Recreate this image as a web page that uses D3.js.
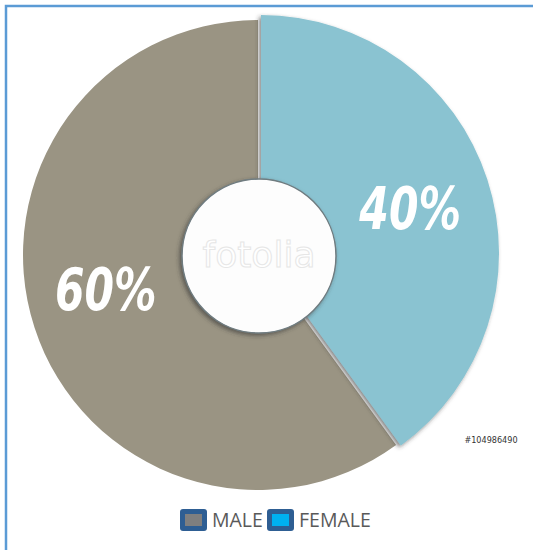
<!DOCTYPE html>
<html>
<head>
<meta charset="utf-8">
<script src="https://cdn.jsdelivr.net/npm/d3@7"></script>
<style>
  body { margin: 0; background: #fff; }
</style>
</head>
<body>
<div id="chart"></div>
<script>
// data
var categories = ['MALE', 'FEMALE']
var values = [60, 40]
var sliceColors = ['#9a9483', '#8ac3d1']
var legendColors = ['#7f7f7f', '#00b0f0']

var width = 533
var height = 550

var svg = d3.select('#chart')
  .append('svg')
    .attr('width', width)
    .attr('height', height)

var defs = svg.append('defs')
defs.append('filter')
    .attr('id', 'shadow')
    .attr('x', '-20%').attr('y', '-20%').attr('width', '140%').attr('height', '140%')
  .append('feDropShadow')
    .attr('dx', -2).attr('dy', 2)
    .attr('stdDeviation', 2)
    .attr('flood-color', '#333')
    .attr('flood-opacity', 0.6)

// frame
svg.append('rect')
  .attr('x', 6).attr('y', 6)
  .attr('width', 560).attr('height', 580)
  .attr('fill', 'none')
  .attr('stroke', '#5b9bd5')
  .attr('stroke-width', 2.5)

var cx = 258, cy = 255
var outerR = 235, innerR = 77

var pie = d3.pie()
  .sort(null)
  .startAngle(-values[0] / 100 * 2 * Math.PI)
  .endAngle(2 * Math.PI - values[0] / 100 * 2 * Math.PI)
  (values)

var arc = d3.arc().innerRadius(innerR - 5).outerRadius(outerR)
var labelArc = d3.arc().innerRadius(160).outerRadius(160)

var g = svg.append('g')
  .attr('transform', 'translate(' + cx + ',' + cy + ')')

// slices (female drawn slightly bigger and nudged, like the picture)
g.selectAll('path.slice')
  .data(pie)
  .enter()
  .append('path')
    .attr('class', 'slice')
    .attr('d', function(d, i) {
      if (i == 1) return d3.arc().innerRadius(innerR - 5).outerRadius(outerR + 3)(d)
      return arc(d)
    })
    .attr('transform', function(d, i) { return i == 1 ? 'translate(3,-2)' : null })
    .attr('fill', function(d, i) { return sliceColors[i] })
    .attr('filter', function(d, i) { return i == 1 ? 'url(#shadow)' : null })

// center hole
g.append('circle')
  .attr('cx', 1).attr('cy', 1)
  .attr('r', innerR)
  .attr('fill', '#fdfdfd')
  .attr('stroke', '#6f7c80')
  .attr('stroke-width', 1.5)
  .attr('filter', 'url(#shadow)')

g.append('text')
  .attr('x', 1).attr('y', 12)
  .attr('text-anchor', 'middle')
  .style('font-family', 'DejaVu Sans')
  .style('font-size', '36px')
  .style('fill', '#ffffff')
  .style('stroke', '#e6e6e6')
  .style('stroke-width', 1)
  .text('fotolia')

// percentage labels
g.selectAll('text.pct')
  .data(pie)
  .enter()
  .append('text')
    .attr('class', 'pct')
    .attr('transform', function(d) {
      var c = labelArc.centroid(d)
      return 'translate(' + c[0] + ',' + c[1] + ')'
    })
    .attr('dy', function(d, i) { return i == 0 ? '0.1em' : '0.4em' })
    .attr('text-anchor', 'middle')
    .style('font-family', 'DejaVu Sans Condensed, DejaVu Sans')
    .style('font-weight', 'bold')
    .style('font-style', 'italic')
    .style('font-size', '59px')
    .style('fill', '#ffffff')
    .text(function(d) { return d.value + '%' })
    .each(function() {
      var w = this.getComputedTextLength()
      d3.select(this)
        .attr('textLength', w * 0.8)
        .attr('lengthAdjust', 'spacingAndGlyphs')
    })

// stock number
svg.append('text')
  .attr('x', 491).attr('y', 443)
  .attr('text-anchor', 'middle')
  .style('font-family', 'DejaVu Sans Condensed, DejaVu Sans')
  .style('font-size', '9px')
  .style('fill', '#333')
  .text('#104986490')

// legend
var legend = svg.append('g')
  .attr('transform', 'translate(180, 509)')

var itemX = [0, 87]
var item = legend.selectAll('g.item')
  .data(categories)
  .enter()
  .append('g')
    .attr('class', 'item')
    .attr('transform', function(d, i) { return 'translate(' + itemX[i] + ',0)' })

item.append('rect')
  .attr('x', 0).attr('y', 0)
  .attr('width', 27).attr('height', 22)
  .attr('rx', 3)
  .attr('fill', '#2e5e93')

item.append('rect')
  .attr('x', 5).attr('y', 5)
  .attr('width', 17).attr('height', 12)
  .attr('fill', function(d, i) { return legendColors[i] })

item.append('text')
  .attr('x', 32).attr('y', 18)
  .style('font-family', 'Open Sans')
  .style('font-size', '19.5px')
  .style('fill', '#595959')
  .text(function(d) { return d })
</script>
</body>
</html>
